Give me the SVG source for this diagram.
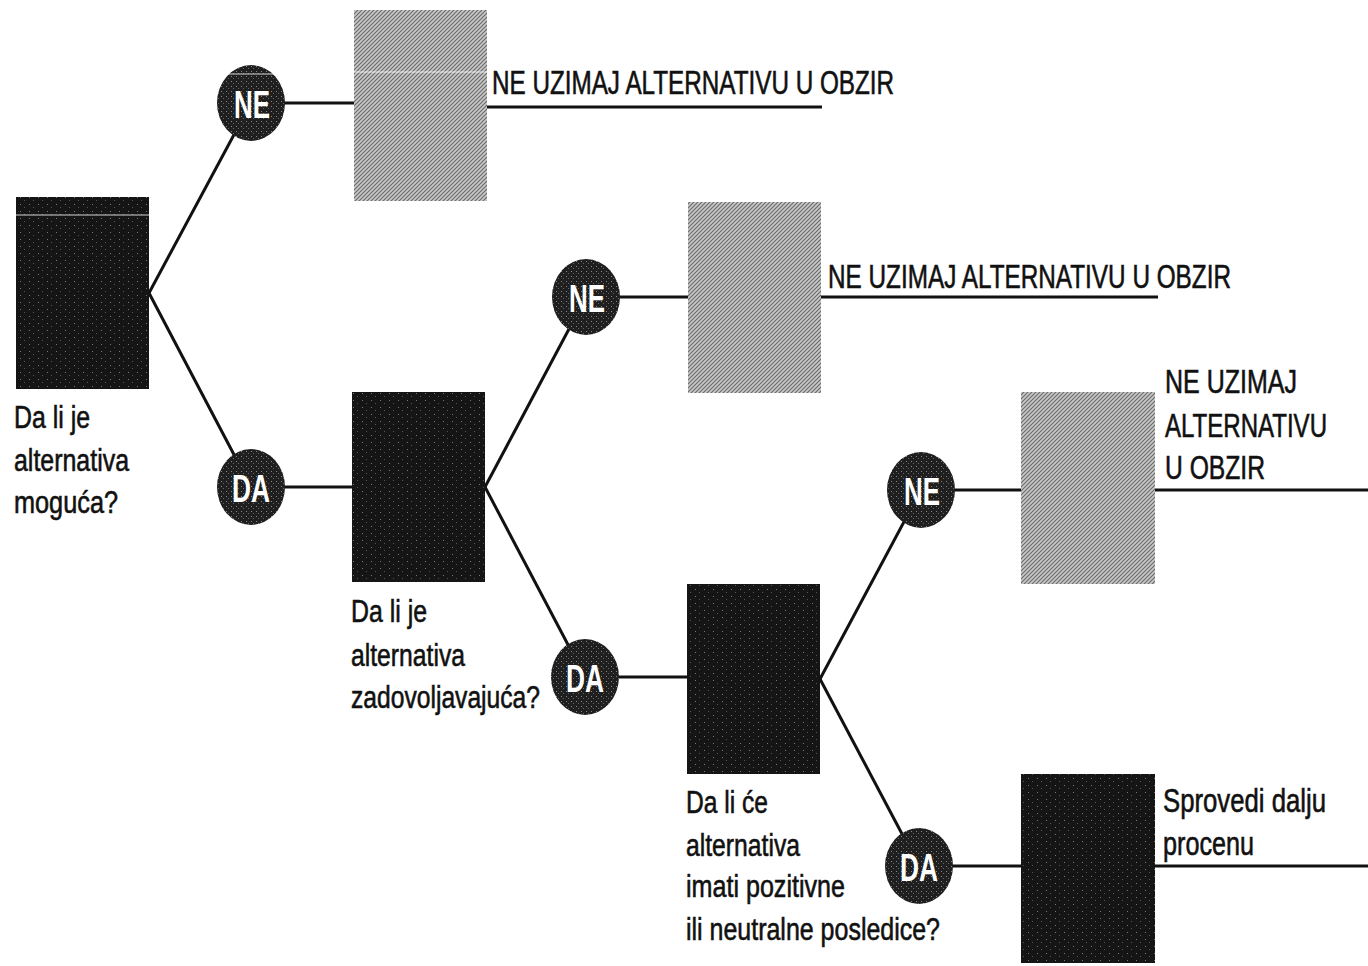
<svg xmlns="http://www.w3.org/2000/svg" width="1368" height="966" viewBox="0 0 1368 966">
<style>
.lbl{font-family:"Liberation Sans Narrow","Liberation Sans",Arial,sans-serif;font-size:31px;fill:#111;stroke:#111;stroke-width:0.6}
.big{font-family:"Liberation Sans Narrow","Liberation Sans",Arial,sans-serif;font-size:33px;fill:#111;stroke:#111;stroke-width:0.6}
.ct{font-family:"Liberation Sans Narrow","Liberation Sans",Arial,sans-serif;font-size:38px;font-weight:bold;fill:#fff;text-anchor:middle}
.ln{stroke:#111;stroke-width:3;fill:none}
.dark{fill:url(#darkpat)}
.light{fill:url(#lightpat)}
.circ{fill:url(#circpat)}
.streak{stroke:#fff;stroke-opacity:0.55;stroke-width:1.5}
</style>
<defs>
<pattern id="lightpat" width="4" height="4" patternUnits="userSpaceOnUse">
<rect width="4" height="4" fill="#cacaca"/>
<path d="M0,4 L4,0 M-1,1 L1,-1 M3,5 L5,3" stroke="#6a6a6a" stroke-width="1.2"/>
</pattern>
<pattern id="darkpat" width="9" height="7" patternUnits="userSpaceOnUse">
<rect width="9" height="7" fill="#151515"/>
<rect x="2" y="1" width="1" height="1" fill="#777"/>
<rect x="6" y="4" width="1" height="1" fill="#555"/>
</pattern>
<pattern id="circpat" width="5" height="5" patternUnits="userSpaceOnUse">
<rect width="5" height="5" fill="#1f1f1f"/>
<rect x="1" y="1" width="1" height="1" fill="#888"/>
<rect x="3" y="3" width="1" height="1" fill="#666"/>
</pattern>
</defs>

<g id="connectors">
<line class="ln" x1="149" y1="293" x2="251" y2="103"/>
<line class="ln" x1="149" y1="293" x2="251" y2="487"/>
<line class="ln" x1="251" y1="103" x2="355" y2="103"/>
<line class="ln" x1="487" y1="107" x2="822" y2="107"/>
<line class="ln" x1="251" y1="487" x2="353" y2="487"/>
<line class="ln" x1="485" y1="487" x2="586" y2="297"/>
<line class="ln" x1="485" y1="487" x2="585" y2="677"/>
<line class="ln" x1="586" y1="297" x2="689" y2="297"/>
<line class="ln" x1="821" y1="297" x2="1158" y2="297"/>
<line class="ln" x1="585" y1="677" x2="688" y2="677"/>
<line class="ln" x1="820" y1="679" x2="921" y2="490"/>
<line class="ln" x1="820" y1="679" x2="919" y2="866"/>
<line class="ln" x1="921" y1="490" x2="1022" y2="490"/>
<line class="ln" x1="1154" y1="490" x2="1368" y2="490"/>
<line class="ln" x1="919" y1="866" x2="1022" y2="866"/>
<line class="ln" x1="1154" y1="866" x2="1368" y2="866"/>
</g>

<g id="q1">
<rect class="dark" x="16" y="197" width="133" height="192"/>
<line class="streak" x1="16" y1="215" x2="149" y2="215"/>
<text class="lbl" x="14" y="428" textLength="76" lengthAdjust="spacingAndGlyphs">Da li je</text>
<text class="lbl" x="14" y="471" textLength="115" lengthAdjust="spacingAndGlyphs">alternativa</text>
<text class="lbl" x="14" y="513" textLength="104" lengthAdjust="spacingAndGlyphs">moguća?</text>
</g>

<g id="ne1">
<ellipse class="circ" cx="251" cy="103" rx="34" ry="38"/>
<line class="streak" x1="228" y1="74" x2="274" y2="74"/>
<text class="ct" x="252" y="118" textLength="36" lengthAdjust="spacingAndGlyphs">NE</text>
</g>

<g id="da1">
<ellipse class="circ" cx="251" cy="487" rx="34" ry="38"/>
<text class="ct" x="251" y="502" textLength="38" lengthAdjust="spacingAndGlyphs">DA</text>
</g>

<g id="r1">
<rect class="light" x="354" y="10" width="133" height="191"/>
<line class="streak" x1="354" y1="72" x2="487" y2="72"/>
<text class="big" x="492" y="94" textLength="402" lengthAdjust="spacingAndGlyphs">NE UZIMAJ ALTERNATIVU U OBZIR</text>
</g>

<g id="q2">
<rect class="dark" x="352" y="392" width="133" height="190"/>
<text class="lbl" x="351" y="622" textLength="76" lengthAdjust="spacingAndGlyphs">Da li je</text>
<text class="lbl" x="351" y="666" textLength="114" lengthAdjust="spacingAndGlyphs">alternativa</text>
<text class="lbl" x="351" y="708" textLength="189" lengthAdjust="spacingAndGlyphs">zadovoljavajuća?</text>
</g>

<g id="ne2">
<ellipse class="circ" cx="586" cy="297" rx="34" ry="38"/>
<text class="ct" x="587" y="312" textLength="36" lengthAdjust="spacingAndGlyphs">NE</text>
</g>

<g id="da2">
<ellipse class="circ" cx="585" cy="677" rx="34" ry="38"/>
<text class="ct" x="585" y="692" textLength="38" lengthAdjust="spacingAndGlyphs">DA</text>
</g>

<g id="r2">
<rect class="light" x="688" y="202" width="133" height="191"/>
<text class="big" x="828" y="288" textLength="403" lengthAdjust="spacingAndGlyphs">NE UZIMAJ ALTERNATIVU U OBZIR</text>
</g>

<g id="q3">
<rect class="dark" x="687" y="584" width="133" height="190"/>
<text class="lbl" x="686" y="813" textLength="82" lengthAdjust="spacingAndGlyphs">Da li će</text>
<text class="lbl" x="686" y="856" textLength="114" lengthAdjust="spacingAndGlyphs">alternativa</text>
<text class="lbl" x="686" y="897" textLength="159" lengthAdjust="spacingAndGlyphs">imati pozitivne</text>
<text class="lbl" x="686" y="940" textLength="254" lengthAdjust="spacingAndGlyphs">ili neutralne posledice?</text>
</g>

<g id="ne3">
<ellipse class="circ" cx="921" cy="490" rx="34" ry="38"/>
<text class="ct" x="922" y="505" textLength="36" lengthAdjust="spacingAndGlyphs">NE</text>
</g>

<g id="da3">
<ellipse class="circ" cx="919" cy="866" rx="34" ry="38"/>
<text class="ct" x="919" y="881" textLength="38" lengthAdjust="spacingAndGlyphs">DA</text>
</g>

<g id="r3">
<rect class="light" x="1021" y="392" width="134" height="192"/>
<text class="big" x="1165" y="393" textLength="132" lengthAdjust="spacingAndGlyphs">NE UZIMAJ</text>
<text class="big" x="1165" y="437" textLength="162" lengthAdjust="spacingAndGlyphs">ALTERNATIVU</text>
<text class="big" x="1165" y="479" textLength="100" lengthAdjust="spacingAndGlyphs">U OBZIR</text>
</g>

<g id="r4">
<rect class="dark" x="1021" y="774" width="134" height="189"/>
<text class="big" x="1163" y="812" textLength="163" lengthAdjust="spacingAndGlyphs">Sprovedi dalju</text>
<text class="big" x="1163" y="855" textLength="91" lengthAdjust="spacingAndGlyphs">procenu</text>
</g>
</svg>
